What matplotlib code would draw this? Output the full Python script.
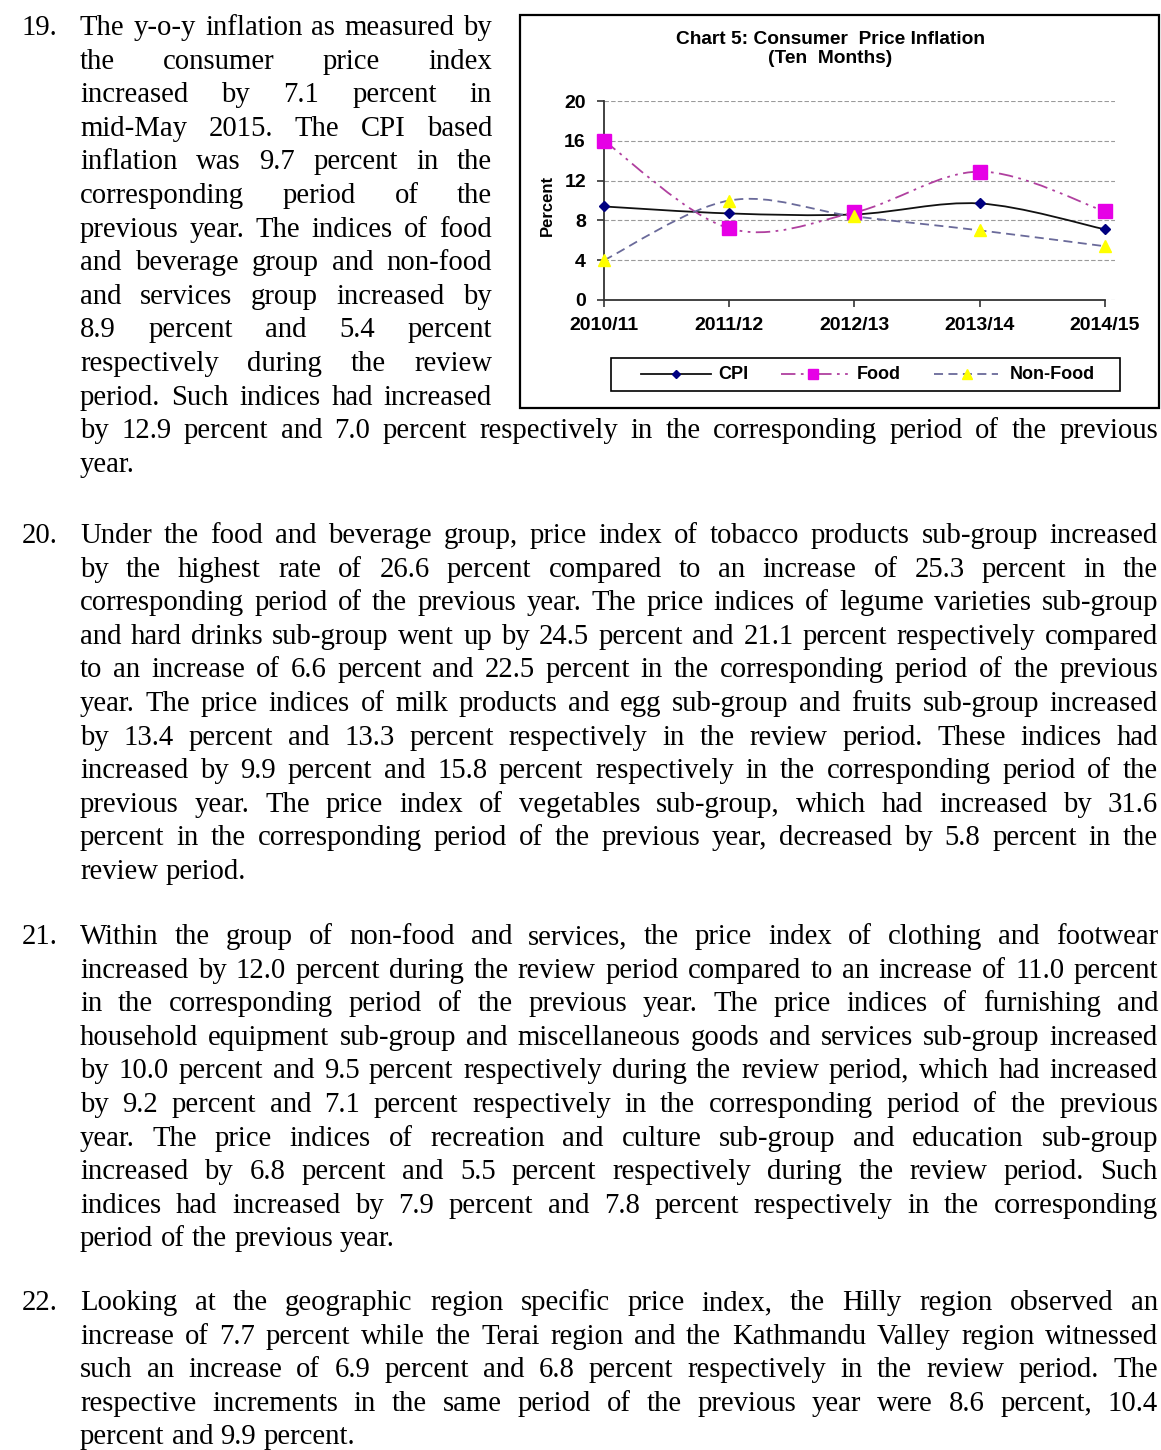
import numpy as np
import matplotlib
matplotlib.use("Agg")
import matplotlib.pyplot as plt
from matplotlib.path import Path
from matplotlib.patches import PathPatch, Rectangle
from matplotlib.lines import Line2D

# ---------------- chart data ----------------
periods = ["2010/11", "2011/12", "2012/13", "2013/14", "2014/15"]
cpi = [9.4, 8.7, 8.6, 9.7, 7.1]
food = [16.0, 7.2, 8.8, 12.9, 8.9]
non_food = [4.0, 10.0, 8.4, 7.0, 5.4]
y_ticks = [0, 4, 8, 12, 16, 20]
series_names = ["CPI", "Food", "Non-Food"]
chart_title = "Chart 5: Consumer  Price Inflation\n(Ten  Months)"

# ---------------- body text ----------------
para19_narrow = [
    "The y-o-y inflation as measured by",
    "the consumer price index",
    "increased by 7.1 percent in",
    "mid-May 2015. The CPI based",
    "inflation was 9.7 percent in the",
    "corresponding period of the",
    "previous year. The indices of food",
    "and beverage group and non-food",
    "and services group increased by",
    "8.9 percent and 5.4 percent",
    "respectively during the review",
    "period. Such indices had increased",
]
para19_wide = [
    "by 12.9 percent and 7.0 percent respectively in the corresponding period of the previous",
    "year.",
]
para20 = [
    "Under the food and beverage group, price index of tobacco products sub-group increased",
    "by the highest rate of 26.6 percent compared to an increase of 25.3 percent in the",
    "corresponding period of the previous year. The price indices of legume varieties sub-group",
    "and hard drinks sub-group went up by 24.5 percent and 21.1 percent respectively compared",
    "to an increase of 6.6 percent and 22.5 percent in the corresponding period of the previous",
    "year. The price indices of milk products and egg sub-group and fruits sub-group increased",
    "by 13.4 percent and 13.3 percent respectively in the review period. These indices had",
    "increased by 9.9 percent and 15.8 percent respectively in the corresponding period of the",
    "previous year. The price index of vegetables sub-group, which had increased by 31.6",
    "percent in the corresponding period of the previous year, decreased by 5.8 percent in the",
    "review period.",
]
para21 = [
    "Within the group of non-food and services, the price index of clothing and footwear",
    "increased by 12.0 percent during the review period compared to an increase of 11.0 percent",
    "in the corresponding period of the previous year. The price indices of furnishing and",
    "household equipment sub-group and miscellaneous goods and services sub-group increased",
    "by 10.0 percent and 9.5 percent respectively during the review period, which had increased",
    "by 9.2 percent and 7.1 percent respectively in the corresponding period of the previous",
    "year. The price indices of recreation and culture sub-group and education sub-group",
    "increased by 6.8 percent and 5.5 percent respectively during the review period. Such",
    "indices had increased by 7.9 percent and 7.8 percent respectively in the corresponding",
    "period of the previous year.",
]
para22 = [
    "Looking at the geographic region specific price index, the Hilly region observed an",
    "increase of 7.7 percent while the Terai region and the Kathmandu Valley region witnessed",
    "such an increase of 6.9 percent and 6.8 percent respectively in the review period. The",
    "respective increments in the same period of the previous year were 8.6 percent, 10.4",
    "percent and 9.9 percent.",
]

W, H = 1161, 1450
fig = plt.figure(figsize=(W / 100, H / 100), dpi=100)
fig.patch.set_facecolor("white")

# page layer in pixel coordinates (y grows downward)
page = fig.add_axes([0, 0, 1, 1], zorder=0)
page.set_xlim(0, W)
page.set_ylim(H, 0)
page.axis("off")

renderer = fig.canvas.get_renderer()
SERIF = dict(family="Liberation Serif", fontsize=20.7, color="black")
LINE_H = 33.6
X_LEFT, X_RIGHT, X_NUM = 80, 1158, 22


def text_width(s):
    t = page.text(0, 0, s, **SERIF)
    w = t.get_window_extent(renderer).width
    t.remove()
    return w


SPACE_W = text_width("a a") - text_width("aa")


def draw_line(line, x0, x1, yb, justify):
    words = line.split()
    items = [page.text(0, yb, w, ha="left", va="baseline", **SERIF) for w in words]
    widths = [t.get_window_extent(renderer).width for t in items]
    gap = SPACE_W
    if justify and len(words) > 1:
        gap = (x1 - x0 - sum(widths)) / (len(words) - 1)
    x = x0
    for t, w in zip(items, widths):
        t.set_x(x)
        x += w + gap


def draw_paragraph(number, lines, y0, x1=X_RIGHT, last_justified=False):
    page.text(X_NUM, y0, number, ha="left", va="baseline", **SERIF)
    for i, line in enumerate(lines):
        last = i == len(lines) - 1
        draw_line(line, X_LEFT, x1, y0 + i * LINE_H, (not last) or last_justified)


# paragraph 19 wraps around the chart
draw_paragraph("19.", para19_narrow, 35, x1=492, last_justified=True)
y_wide = 35 + len(para19_narrow) * LINE_H
for i, line in enumerate(para19_wide):
    draw_line(line, X_LEFT, X_RIGHT, y_wide + i * LINE_H, i < len(para19_wide) - 1)

draw_paragraph("20.", para20, 543)
draw_paragraph("21.", para21, 944)
draw_paragraph("22.", para22, 1310)

# ---------------- chart frame ----------------
page.add_patch(Rectangle((520, 15), 639, 393, fill=False, edgecolor="black", lw=1.6))
SANS_B = dict(family="Liberation Sans", weight="bold", color="black")
page.text(830, 49, chart_title, ha="center", va="center", fontsize=13.8,
          linespacing=1.2, **SANS_B)
page.text(547, 205, "Percent", ha="center", va="center", rotation=90,
          fontsize=12, **SANS_B)

# ---------------- chart axes ----------------
ax = fig.add_axes([604 / W, 1 - 300 / H, 511 / W, 199 / H], zorder=2)
ax.patch.set_alpha(0)
ax.set_xlim(0, 4.08)
ax.set_ylim(0, 20)
ax.set_yticks(y_ticks)
ax.set_xticks(range(len(periods)))
ax.set_xticklabels(periods)
for s in ("top", "right"):
    ax.spines[s].set_visible(False)
for s in ("left", "bottom"):
    ax.spines[s].set_color("#333333")
    ax.spines[s].set_linewidth(1.3)
ax.spines["bottom"].set_bounds(0, len(periods) - 1)
ax.tick_params(axis="both", direction="out", length=5, width=1.2, color="#333333",
               labelsize=14)
ax.tick_params(axis="y", pad=8)
ax.tick_params(axis="x", pad=7)
for lab in ax.get_xticklabels() + ax.get_yticklabels():
    lab.set_fontfamily("Liberation Sans")
    lab.set_fontweight("bold")
ax.yaxis.grid(True, linestyle=(0, (4, 2)), color="#9a9a9a", lw=0.8)
ax.set_axisbelow(True)


def smooth_path(xs, ys):
    pts = np.column_stack([xs, ys]).astype(float)
    n = len(pts)
    verts, codes = [pts[0]], [Path.MOVETO]
    for i in range(n - 1):
        p0 = pts[i - 1] if i > 0 else pts[i]
        p1, p2 = pts[i], pts[i + 1]
        p3 = pts[i + 2] if i + 2 < n else pts[i + 1]
        verts += [p1 + (p2 - p0) / 6, p2 - (p3 - p1) / 6, p2]
        codes += [Path.CURVE4] * 3
    return Path(verts, codes)


x = np.arange(len(periods))
styles = [
    (cpi, "#111111", "-", "D", "#000080", 5.5),
    (food, "#b0409f", (0, (8, 3, 1.5, 3, 1.5, 3)), "s", "#e600e6", 10),
    (non_food, "#6a6a9a", (0, (5, 3)), "^", "#ffff00", 9),
]
for vals, lc, ls, mk, mc, ms in styles:
    ax.add_patch(PathPatch(smooth_path(x, vals), fill=False, edgecolor=lc, lw=1.3,
                           linestyle=ls, clip_on=False, zorder=3))
for vals, lc, ls, mk, mc, ms in styles:
    ax.plot(x, vals, linestyle="none", marker=mk, markersize=ms, color=mc,
            markeredgecolor=mc, clip_on=False, zorder=4)

# ---------------- legend ----------------
LEG_Y = 374
page.add_patch(Rectangle((611, 358), 509, 33, fill=False, edgecolor="black", lw=1.2))
legend_spec = [
    (641, 711, 676, 718),
    (781, 852, 813, 857),
    (934, 998, 967, 1010),
]
legend_sizes = [4, 7, 7.5]
for (x0, x1, xm, xt), (vals, lc, ls, mk, mc, ms), name, lms in zip(
        legend_spec, styles, series_names, legend_sizes):
    page.add_line(Line2D([x0, x1], [LEG_Y, LEG_Y], color=lc, lw=1.3, linestyle=ls))
    page.add_line(Line2D([xm], [LEG_Y], marker=mk, markersize=lms, color=mc,
                         markeredgecolor=mc, linestyle="none"))
    page.text(xt, LEG_Y, name, ha="left", va="center", fontsize=13, **SANS_B)

fig.savefig("out.png", dpi=100, facecolor="white")
